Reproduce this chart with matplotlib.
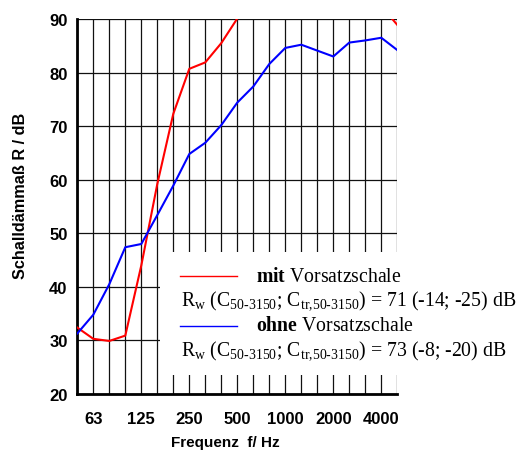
import numpy as np
import matplotlib
matplotlib.use('Agg')
import matplotlib.pyplot as plt
from matplotlib.patches import Rectangle
from matplotlib.lines import Line2D

# Terzband-Mittenfrequenzen 50 Hz .. 5000 Hz
freqs = [50, 63, 80, 100, 125, 160, 200, 250, 315, 400, 500, 630, 800,
         1000, 1250, 1600, 2000, 2500, 3150, 4000, 5000]
tick_labels = ['63', '125', '250', '500', '1000', '2000', '4000']

# Schalldaemmass R / dB
r_mit = [32.4, 30.3, 29.9, 30.9, 44.0, 59.2, 72.3, 80.7, 81.9, 85.5, 90.1,
         93.5, 96.0, 98.0, 99.0, 99.5, 99.0, 97.5, 95.5, 92.4, 88.9]
r_ohne = [31.3, 34.8, 40.5, 47.4, 48.0, 53.4, 58.9, 64.8, 66.9, 70.2, 74.4,
          77.4, 81.6, 84.6, 85.2, 84.1, 83.0, 85.6, 86.0, 86.5, 84.2]

legend_rows = ['mit', 'ohne']
rw_text = ['71 (-14; -25) dB', '73 (-8; -20) dB']

plt.rcParams['font.family'] = ['Liberation Sans', 'DejaVu Sans']
plt.rcParams['mathtext.fontset'] = 'custom'
plt.rcParams['mathtext.rm'] = 'Liberation Serif'
plt.rcParams['mathtext.bf'] = 'Liberation Serif:bold'

W, H = 525, 452
fig = plt.figure(figsize=(W / 100, H / 100), dpi=100)
ax = fig.add_axes([77.3 / W, 1 - 395 / H, 320 / W, 375 / H])

x = np.arange(len(freqs))

# Raster
for xi in x:
    ax.axvline(xi, color='#111111', lw=0.9, zorder=1)
for yv in range(20, 91, 10):
    ax.axhline(yv, color='#111111', lw=0.9, zorder=1)

ax.plot(x, r_mit, color='red', lw=1.5, zorder=3)
ax.plot(x, r_ohne, color='blue', lw=1.5, zorder=3)

ax.set_xlim(0, len(freqs) - 1)
ax.set_ylim(20, 90)
ax.set_xticks([freqs.index(int(t)) for t in tick_labels])
ax.set_xticklabels(tick_labels)
ax.set_yticks(range(20, 91, 10))
ax.tick_params(length=0, labelsize=12)
ax.tick_params(axis='x', pad=12)
ax.tick_params(axis='y', pad=7)
for lab in ax.get_xticklabels() + ax.get_yticklabels():
    lab.set_fontweight('bold')
for s in ['top', 'right']:
    ax.spines[s].set_visible(False)
for s in ['left', 'bottom']:
    ax.spines[s].set_linewidth(2)

fig.text(225 / W, 1 - 443 / H, 'Frequenz  f/ Hz', ha='center', va='center',
         fontsize=11, fontweight='bold')
fig.text(21 / W, 1 - 196 / H, 'Schalldämmaß R / dB', ha='center', va='center',
         rotation=90, fontsize=11.7, fontweight='bold')

# Legendenfeld
fig.add_artist(Rectangle((160 / W, 1 - 376 / H), (W - 160) / W, 123 / H,
                         transform=fig.transFigure, facecolor='white',
                         edgecolor='none', zorder=5))
colors = ['red', 'blue']
row_y = [277, 327]
for i in range(2):
    yy = 1 - row_y[i] / H
    fig.add_artist(Line2D([180 / W, 236.7 / W], [yy, yy], color=colors[i],
                          lw=1.0, transform=fig.transFigure, zorder=6))
    fig.text(256 / W, yy, r'$\mathbf{' + legend_rows[i] + '}$ Vorsatzschale',
             ha='left', va='center', fontsize=14.2,
             family='Liberation Serif', zorder=7)
    fig.text(180.7 / W, 1 - (row_y[i] + 24) / H,
             r'R$_\mathrm{w}$ (C$_{\mathrm{50\text{-}3150}}$; '
             r'C$_{\mathrm{tr{,}50\text{-}3150}}$) = ' + rw_text[i],
             ha='left', va='center', fontsize=14.2,
             family='Liberation Serif', zorder=7)

fig.savefig('out.png', dpi=100)
